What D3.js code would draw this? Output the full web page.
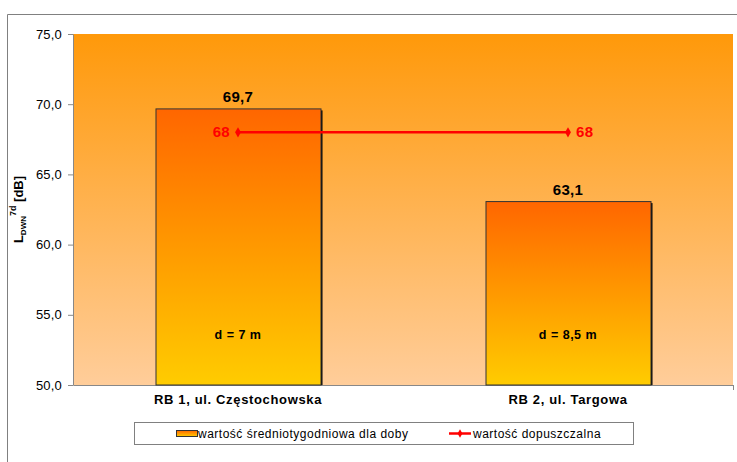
<!DOCTYPE html>
<html><head><meta charset="utf-8">
<script src="https://cdn.jsdelivr.net/npm/d3@7"></script>
<style>body{margin:0;background:#fff}svg{display:block;font-family:"Liberation Sans",Arial,sans-serif}</style>
</head><body><svg id="c" width="737" height="462"></svg>
<script>
const categories = ["RB 1, ul. Częstochowska", "RB 2, ul. Targowa"];
const values = [69.7, 63.1];
const valueLabels = ["69,7", "63,1"];
const distances = ["d = 7 m", "d = 8,5 m"];
const limitValues = [68, 68];
const yTicks = [50, 55, 60, 65, 70, 75];
const legendLabels = ["wartość średniotygodniowa dla doby", "wartość dopuszczalna"];

const svg = d3.select("#c");
const m = {l: 73, r: 733, t: 34, b: 385};
const x = d3.scaleBand().domain(categories).range([m.l, m.r]).paddingInner(0.5).paddingOuter(0.25);
const y = d3.scaleLinear().domain([50, 75]).range([m.b, m.t]);
const fmt = v => d3.format(".1f")(v).replace(".", ",");
const FF = "'Liberation Sans',Arial,sans-serif";

const defs = svg.append("defs");
const bg = defs.append("linearGradient").attr("id","bg").attr("x1",0).attr("y1",0).attr("x2",0).attr("y2",1);
bg.append("stop").attr("offset","0").attr("stop-color","#FF990A");
bg.append("stop").attr("offset","1").attr("stop-color","#FFCD9A");
const bar = defs.append("linearGradient").attr("id","bar").attr("x1",0).attr("y1",0).attr("x2",0).attr("y2",1);
bar.append("stop").attr("offset","0").attr("stop-color","#FF6600");
bar.append("stop").attr("offset","1").attr("stop-color","#FFCC00");
const lg = defs.append("linearGradient").attr("id","lg").attr("x1",0).attr("y1",0).attr("x2",0).attr("y2",1);
lg.append("stop").attr("offset","0").attr("stop-color","#FF6600");
lg.append("stop").attr("offset","1").attr("stop-color","#FFCC00");

// outer frame
svg.append("path").attr("d","M7.5,462 V14.5 H737").attr("fill","none").attr("stroke","#808080").attr("stroke-width",1);

// plot background
svg.append("rect").attr("x",m.l).attr("y",m.t).attr("width",m.r-m.l).attr("height",m.b-m.t).attr("fill","url(#bg)");

// y axis
const ya = svg.append("g").attr("transform",`translate(${m.l},0)`)
  .call(d3.axisLeft(y).tickValues(yTicks).tickSize(5).tickSizeOuter(0).tickFormat(fmt));
ya.select(".domain").attr("stroke","#888");
ya.selectAll(".tick line").attr("stroke","#888");
ya.selectAll("text").attr("font-size",13).attr("letter-spacing",0.2).attr("font-family",FF).attr("fill","#000").attr("x",-11);
// x axis
const xa = svg.append("g").attr("transform",`translate(0,${m.b})`)
  .call(d3.axisBottom(x).tickSize(0).tickSizeOuter(0));
xa.select(".domain").attr("stroke","#888");
xa.selectAll("text").attr("font-size",13).attr("letter-spacing",0.65).attr("font-weight","bold").attr("font-family",FF).attr("fill","#000").attr("dy","1.25em");
svg.append("line").attr("x1",m.r+0.5).attr("x2",m.r+0.5).attr("y1",m.b).attr("y2",m.b+5).attr("stroke","#888");

// bars with shadow
const g = svg.append("g");
categories.forEach((c,i)=>{
  const bx = x(c), bw = x.bandwidth(), by = y(values[i]);
  g.append("rect").attr("x",bx+2).attr("y",by+2).attr("width",bw).attr("height",m.b-by-2).attr("fill","#000");
  g.append("rect").attr("x",bx+0.5).attr("y",by+0.5).attr("width",bw).attr("height",m.b-by-0.5).attr("fill","url(#bar)").attr("stroke","#333").attr("stroke-width",1);
  g.append("text").attr("x",bx+bw/2).attr("y",by-6).attr("text-anchor","middle").attr("font-size",15).attr("letter-spacing",0.3).attr("font-weight","bold").text(valueLabels[i]);
  g.append("text").attr("x",bx+bw/2).attr("y",y(53.3)).attr("text-anchor","middle").attr("font-size",12.5).attr("letter-spacing",0.5).attr("font-weight","bold").text(distances[i]);
});

// limit line
const line = d3.line().x((d,i)=>x(categories[i])+x.bandwidth()/2).y(d=>y(d));
svg.append("path").datum(limitValues).attr("d",line).attr("fill","none").attr("stroke","#FF0000").attr("stroke-width",2.5);
limitValues.forEach((v,i)=>{
  const cx = x(categories[i])+x.bandwidth()/2, cy = y(v);
  svg.append("path").attr("d",d3.symbol(d3.symbolDiamond,30)()).attr("transform",`translate(${cx},${cy})`).attr("fill","#FF0000");
  svg.append("text").attr("x", i===0 ? cx-8 : cx+8).attr("y",cy+5).attr("text-anchor", i===0?"end":"start")
    .attr("font-size",15).attr("letter-spacing",0.3).attr("font-weight","bold").attr("fill","#FF0000").text(v);
});

// y label
const yl = svg.append("text").attr("transform",`translate(23,${(m.t+m.b)/2}) rotate(-90)`).attr("text-anchor","middle").attr("font-size",13).attr("font-weight","bold");
yl.append("tspan").text("L");
yl.append("tspan").attr("font-size",8).attr("dy",3).text("DWN");
yl.append("tspan").attr("font-size",9).attr("dy",-10).text("7d");
yl.append("tspan").attr("dy",7).text(" [dB]");

// legend
const L = svg.append("g");
L.append("rect").attr("x",134.5).attr("y",422.5).attr("width",499).attr("height",22).attr("fill","#fff").attr("stroke","#808080");
L.append("rect").attr("x",176.5).attr("y",430.5).attr("width",21).attr("height",6).attr("fill","url(#lg)").attr("stroke","#333");
L.append("text").attr("x",198).attr("y",438).attr("font-size",12).attr("letter-spacing",0.5).text(legendLabels[0]);
L.append("line").attr("x1",449).attr("x2",471).attr("y1",433.5).attr("y2",433.5).attr("stroke","#FF0000").attr("stroke-width",2.5);
L.append("path").attr("d",d3.symbol(d3.symbolDiamond,20)()).attr("transform","translate(460,433.5)").attr("fill","#FF0000");
L.append("text").attr("x",473).attr("y",438).attr("font-size",12).attr("letter-spacing",0.5).text(legendLabels[1]);
</script></body></html>
